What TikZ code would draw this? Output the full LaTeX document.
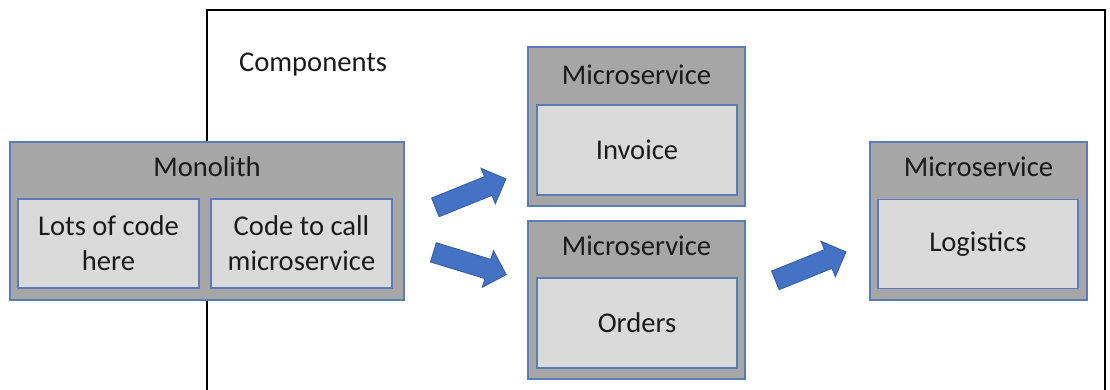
\documentclass[tikz,border=0pt]{standalone}
\usepackage{fontspec}
\setmainfont{Carlito}
\usetikzlibrary{shapes.arrows}
\definecolor{boxgray}{HTML}{A6A6A6}
\definecolor{innergray}{HTML}{DADADA}
\definecolor{boxline}{HTML}{5B7DB5}
\definecolor{arrowblue}{HTML}{4472C4}
\definecolor{arrowline}{HTML}{3A62A8}
\definecolor{textblack}{HTML}{1A1A1A}
\def\px{0.5pt}
\begin{document}
\begin{tikzpicture}[x=0.5pt, y=-0.5pt,
  every node/.style={font=\fontsize{14.3}{17.5}\selectfont, text=textblack},
  outerbox/.style={draw=boxline, line width=0.7pt, fill=boxgray, inner sep=0pt},
  innerbox/.style={draw=boxline, line width=0.7pt, fill=innergray, inner sep=0pt, align=center},
  flowarrow/.style={single arrow, draw=arrowline, fill=arrowblue, line width=0.5pt,
    inner xsep=0pt, inner ysep=9.5*\px, minimum height=76*\px,
    single arrow head extend=9*\px}]
  \useasboundingbox (0,0) rectangle (1110,390);
  % components frame, open at the bottom
  \coordinate (frameBL) at (207,392);
  \coordinate (frameBR) at (1105,392);
  \draw[line width=0.8pt] (frameBL) |- (1105,10) -- (frameBR);
  \node[anchor=west] (comp) at (232,65) {Components};

  % monolith
  \node[outerbox, minimum width=394*\px, minimum height=158*\px] (mono) at (207,221) {};
  \node (monoT) at (207,167) {Monolith};
  \node[innerbox, minimum width=181*\px, minimum height=89*\px] (lots) at (108.5,243.5) {Lots of code\\here};
  \node[innerbox, minimum width=181*\px, minimum height=89*\px] (call) at (301.5,243.5) {Code to call\\microservice};

  % microservices
  \node[outerbox, minimum width=217*\px, minimum height=159*\px] (msA) at (636.5,126.5) {};
  \node (msAT) at (636.5,75) {Microservice};
  \node[innerbox, minimum width=200*\px, minimum height=90*\px] (inv) at (637,150) {Invoice};

  \node[outerbox, minimum width=217*\px, minimum height=158*\px] (msB) at (636.5,300) {};
  \node (msBT) at (636.5,246) {Microservice};
  \node[innerbox, minimum width=200*\px, minimum height=90*\px] (ord) at (637,323) {Orders};

  \node[outerbox, minimum width=217*\px, minimum height=158*\px] (msC) at (978.5,221) {};
  \node (msCT) at (978.5,167) {Microservice};
  \node[innerbox, minimum width=200*\px, minimum height=89*\px] (log) at (978,244) {Logistics};

  % block arrows
  \node[flowarrow, rotate=22] (arrA) at (466,195) {};
  \node[flowarrow, rotate=-17] (arrB) at (465,262) {};
  \node[flowarrow, rotate=22] (arrC) at (806,268) {};
\end{tikzpicture}
\end{document}
